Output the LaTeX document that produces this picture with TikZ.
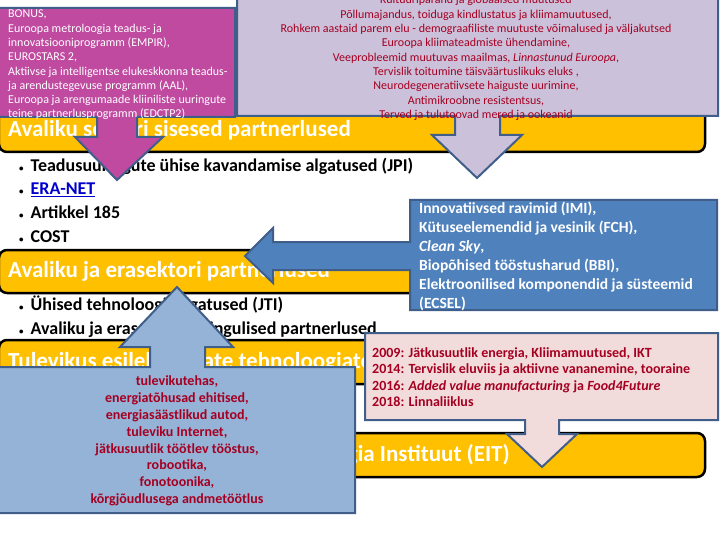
\documentclass[tikz,border=0pt]{standalone}
\usepackage{fontspec}
\setmainfont{Carlito}
\definecolor{bannerorange}{HTML}{FFC000}
\definecolor{rimblue}{HTML}{3F5E8A}
\definecolor{magentabox}{HTML}{BF4AA0}
\definecolor{lavender}{HTML}{CCC1DA}
\definecolor{boxblue}{HTML}{4F81BD}
\definecolor{paleblue}{HTML}{95B3D7}
\definecolor{pinkbox}{HTML}{F2DCDB}
\definecolor{darkred}{HTML}{A50021}
\definecolor{linkblue}{HTML}{0000CC}

\begin{document}
\begin{tikzpicture}[x=1pt,y=-1pt,
  banner/.style={draw=black,line width=2.5pt,fill=bannerorange,rounded corners=8pt},
  bannertext/.style={anchor=west,inner sep=0pt,text=white,font=\fontsize{23}{27}\selectfont\bfseries},
  bullets/.style={anchor=west,inner sep=0pt,align=left,font=\fontsize{18}{23.7}\selectfont\bfseries},
  callout/.style={draw=rimblue,line width=2pt,line join=miter},
  boxtext/.style={inner sep=0pt,font=\fontsize{12}{14.3}\selectfont}]

\useasboundingbox[fill=white] (0,0) rectangle (720,540);

% yellow banners and bullet lists
\draw[banner] (-1,108) rectangle (705,152);
\node[bannertext] (sisesed) at (8,130) {Avaliku sektori sisesed partnerlused};
\node[bullets] (list1) at (19,200) {{\small\textbullet}\hspace{7pt}Teadusuuringute ühise kavandamise algatused (JPI)\\
  {\small\textbullet}\hspace{7pt}\textcolor{linkblue}{\underline{ERA-NET}}\\
  {\small\textbullet}\hspace{7pt}Artikkel 185\\
  {\small\textbullet}\hspace{7pt}COST};

\draw[banner] (-1,250) rectangle (705,293);
\node[bannertext] (erasektor) at (8,271) {Avaliku ja erasektori partnerlused};
\node[bullets] (list2) at (19,317) {{\small\textbullet}\hspace{7pt}Ühised tehnoloogiaalgatused (JTI)\\
  {\small\textbullet}\hspace{7pt}Avaliku ja erasektori lepingulised partnerlused};

\draw[banner] (-1,340) rectangle (705,384);
\node[bannertext] (fet) at (8,362) {Tulevikus esilekerkivate tehnoloogiate (FET)};

\draw[banner] (-1,433) rectangle (705,477);
\node[bannertext] (eit) at (8,455) {Euroopa Innovatsiooni- ja Tehnoloogia Instituut (EIT)};

% callouts
\draw[callout,fill=magentabox] (-2,8) -- (235,8) -- (235,117) -- (137,117) -- (137,137) -- (163,137)
  -- (117,180) -- (75,137) -- (97,137) -- (97,117) -- (-2,117) -- cycle;
\node[boxtext,anchor=west,align=left,text=white] (art185) at (8,65) {BONUS,\\
  Euroopa metroloogia teadus- ja\\
  innovatsiooniprogramm (EMPIR),\\
  EUROSTARS 2,\\
  Aktiivse ja intelligentse elukeskkonna teadus-\\
  ja arendustegevuse programm (AAL),\\
  Euroopa ja arengumaade kliiniliste uuringute\\
  teine partnerlusprogramm (EDCTP2)};

\draw[callout,fill=lavender] (237,-5) -- (718,-5) -- (718,116) -- (500,116) -- (500,135) -- (522,135)
  -- (477,178) -- (432,135) -- (455,135) -- (455,116) -- (237,116) -- cycle;
\node[boxtext,align=center,text=darkred] (jpi) at (476,58) {Kultuuripärand ja globaalsed muutused\\
  Põllumajandus, toiduga kindlustatus ja kliimamuutused,\\
  Rohkem aastaid parem elu - demograafiliste muutuste võimalused ja väljakutsed\\
  Euroopa kliimateadmiste ühendamine,\\
  Veeprobleemid muutuvas maailmas, \textit{Linnastunud Euroopa},\\
  Tervislik toitumine täisväärtuslikuks eluks ,\\
  Neurodegeneratiivsete haiguste uurimine,\\
  Antimikroobne resistentsus,\\
  Terved ja tulutoovad mered ja ookeanid};

\draw[callout,fill=boxblue] (410,200) -- (717,200) -- (717,310) -- (410,310) -- (410,270) -- (273,270)
  -- (273,283) -- (245,256) -- (273,228) -- (273,242) -- (410,242) -- cycle;
\node[boxtext,anchor=west,align=left,text=white,font=\fontsize{15.5}{19}\selectfont\bfseries] (jti) at (419,256) {Innovatiivsed ravimid (IMI),\\
  Kütuseelemendid ja vesinik (FCH),\\
  \textit{Clean Sky},\\
  Biopõhised tööstusharud (BBI),\\
  Elektroonilised komponendid ja süsteemid\\
  (ECSEL)};

\draw[callout,fill=paleblue] (-2,367) -- (150,367) -- (150,347) -- (120,347) -- (177,287) -- (233,347)
  -- (205,347) -- (205,367) -- (355,367) -- (355,513) -- (-2,513) -- cycle;
\node[boxtext,align=center,text=darkred,font=\fontsize{14}{16.8}\selectfont\bfseries] (ppp) at (177,441) {tulevikutehas,\\
  energiatõhusad ehitised,\\
  energiasäästlikud autod,\\
  tuleviku Internet,\\
  jätkusuutlik töötlev tööstus,\\
  robootika,\\
  fonotoonika,\\
  kõrgjõudlusega andmetöötlus};

\draw[callout,fill=pinkbox] (365,333) -- (718,333) -- (718,420) -- (559,420) -- (559,434) -- (577,434)
  -- (542,467) -- (507,434) -- (525,434) -- (525,420) -- (365,420) -- cycle;
\node[boxtext,anchor=west,align=left,text=darkred,font=\fontsize{14}{16.3}\selectfont\bfseries] (kic) at (372,377) {2009: Jätkusuutlik energia, Kliimamuutused, IKT\\
  2014: Tervislik eluviis ja aktiivne vananemine, tooraine\\
  2016: \textit{Added value manufacturing} ja \textit{Food4Future}\\
  2018: Linnaliiklus};
\end{tikzpicture}
\end{document}
